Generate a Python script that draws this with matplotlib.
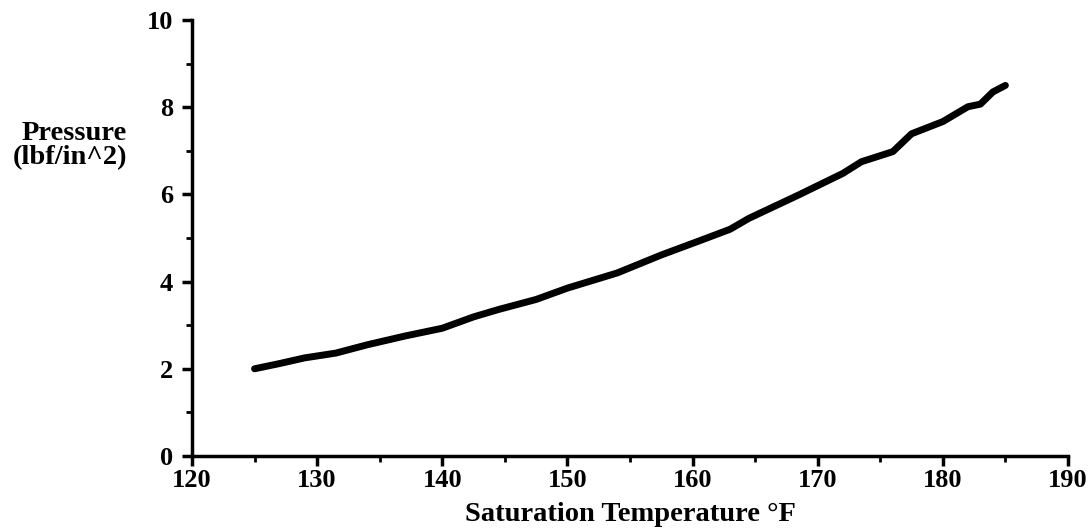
"""Saturation pressure vs temperature, scanned-report style line chart."""
import matplotlib
matplotlib.use("Agg")
import matplotlib.pyplot as plt
from matplotlib.ticker import MultipleLocator

# values
temp_f = [125, 127, 129, 131.5, 134, 137, 140, 142.5, 144.5, 147.5, 150, 154,
          157.5, 160.5, 163, 164.5, 168.5, 172, 173.5, 176, 177.5, 180, 182,
          183, 184, 185]
pressure = [2.00, 2.12, 2.25, 2.36, 2.55, 2.75, 2.93, 3.19, 3.36, 3.59, 3.85,
            4.20, 4.61, 4.93, 5.20, 5.45, 5.99, 6.48, 6.75, 6.98, 7.39, 7.67,
            8.01, 8.07, 8.35, 8.50]

x_ticks = [120, 130, 140, 150, 160, 170, 180, 190]
y_ticks = [0, 2, 4, 6, 8, 10]

plt.rcParams["font.family"] = ["Liberation Serif", "DejaVu Serif"]

fig = plt.figure(figsize=(10.92, 5.32), dpi=100)
ax = fig.add_axes([0.1758, 0.1429, 0.8022, 0.8195])

ax.plot(temp_f, pressure, color="black", lw=5, solid_capstyle="round",
        solid_joinstyle="round")

ax.set_xlim(120, 190)
ax.set_ylim(0, 10)
ax.set_xticks(x_ticks)
ax.set_yticks(y_ticks)
ax.xaxis.set_minor_locator(MultipleLocator(5))
ax.yaxis.set_minor_locator(MultipleLocator(1))

for side in ("top", "right"):
    ax.spines[side].set_visible(False)
for side in ("left", "bottom"):
    ax.spines[side].set_linewidth(2.5)

ax.tick_params(which="major", direction="out", length=7.5, width=2.5,
               labelsize=19)
ax.tick_params(axis="x", which="major", pad=2)
ax.tick_params(axis="y", which="major", pad=6)
ax.tick_params(which="minor", direction="out", length=4, width=2)
for lab in ax.get_xticklabels() + ax.get_yticklabels():
    lab.set_fontweight("bold")

ax.set_xlabel("Saturation Temperature °F", fontsize=20.5, fontweight="bold",
              labelpad=7)
fig.text(127 / 1092, 1 - 146 / 532, "Pressure\n(lbf/in^2)", ha="right",
         va="center", fontsize=20.5, fontweight="bold", linespacing=0.95)

fig.savefig("out.png", dpi=100)
